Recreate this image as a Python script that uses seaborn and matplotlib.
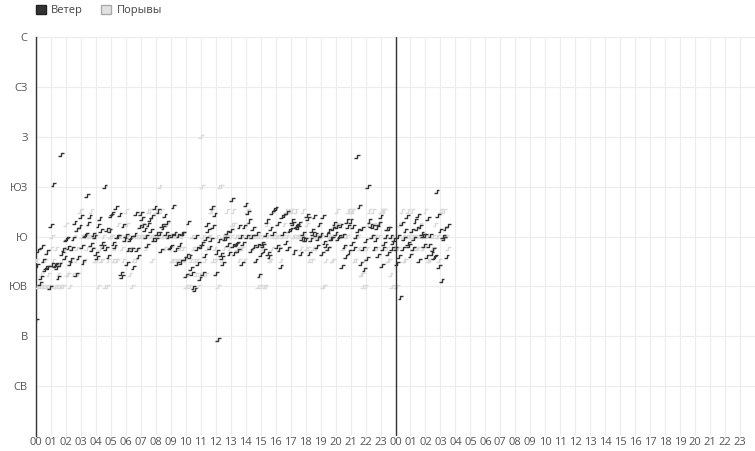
import matplotlib
matplotlib.use("Agg")
import matplotlib.pyplot as plt
from matplotlib.path import Path
from matplotlib.patches import Patch
import pandas as pd
import seaborn as sns

direction_ticks = [45, 90, 135, 180, 225, 270, 315, 360]
direction_labels = ["СВ", "В", "ЮВ", "Ю", "ЮЗ", "З", "СЗ", "С"]
hour_labels = [f"{h % 24:02d}" for h in range(48)]
step_minutes = 5

# wind direction, degrees, one row per hour (5 min steps)
wind_dir = [
    104, 154, 167, 138, 143, 171, 158, 150, 152, 166, 152, 134,
    190, 155, 227, 154, 155, 152, 143, 155, 254, 165, 168, 161,
    177, 178, 170, 156, 159, 169, 178, 193, 146, 186, 161, 189,
    198, 171, 157, 181, 182, 217, 192, 198, 173, 168, 182, 180,
    165, 161, 190, 196, 185, 174, 171, 225, 169, 186, 162, 185,
    199, 201, 174, 171, 206, 180, 180, 200, 147, 144, 190, 177,
    181, 156, 168, 177, 179, 168, 152, 182, 201, 168, 162, 189,
    201, 196, 190, 186, 180, 172, 191, 195, 185, 198, 177, 206,
    177, 183, 203, 183, 167, 190, 188, 199, 183, 193, 180, 170,
    171, 181, 207, 183, 168, 156, 181, 173, 157, 183, 183, 160,
    145, 163, 193, 162, 151, 147, 134, 132, 180, 169, 156, 142,
    171, 174, 147, 163, 178, 191, 185, 170, 177, 206, 189, 200,
    147, 166, 87, 176, 164, 161, 156, 178, 178, 184, 173, 165,
    185, 213, 172, 165, 173, 174, 167, 189, 180, 156, 174, 189,
    209, 180, 202, 194, 167, 180, 187, 171, 158, 183, 172, 145,
    164, 174, 172, 167, 182, 194, 165, 162, 187, 202, 183, 204,
    205, 171, 192, 168, 153, 198, 183, 199, 175, 202, 169, 185,
    186, 194, 192, 166, 189, 190, 188, 192, 165, 178, 183, 177,
    177, 199, 196, 165, 177, 185, 183, 198, 182, 171, 178, 191,
    182, 165, 198, 175, 172, 182, 169, 185, 178, 178, 187, 192,
    183, 189, 178, 180, 190, 153, 181, 171, 162, 194, 189, 166,
    194, 174, 189, 169, 180, 252, 185, 207, 156, 187, 169, 150,
    176, 160, 225, 194, 190, 180, 189, 169, 177, 188, 163, 192,
    198, 154, 169, 174, 180, 187, 165, 187, 180, 169, 175, 177,
    169, 156, 180, 162, 125, 192, 169, 178, 185, 198, 174, 172,
    163, 185, 169, 178, 194, 187, 199, 158, 189, 183, 181, 172,
    181, 162, 196, 172, 181, 165, 168, 161, 162, 221, 199, 153,
    185, 140, 180, 178, 187, 162, 190,
]

# gust direction, degrees, same timestamps
gust_dir = [
    158, 135, 135, 135, 146, 135, 135, 158, 135, 135, 146, 135,
    169, 180, 158, 135, 169, 135, 146, 135, 135, 158, 135, 169,
    191, 146, 146, 135, 158, 169, 146, 180, 158, 169, 146, 203,
    203, 180, 180, 158, 180, 169, 180, 180, 203, 169, 180, 158,
    180, 158, 135, 169, 158, 158, 180, 135, 169, 135, 158, 180,
    180, 180, 158, 169, 158, 158, 191, 180, 180, 169, 158, 180,
    203, 191, 180, 146, 169, 135, 158, 180, 158, 180, 169, 180,
    180, 191, 180, 180, 169, 180, 203, 203, 180, 158, 180, 180,
    203, 180, 180, 225, 203, 180, 180, 169, 180, 191, 180, 180,
    169, 158, 158, 180, 158, 180, 158, 169, 158, 180, 169, 158,
    135, 135, 146, 135, 158, 180, 169, 158, 146, 158, 135, 146,
    270, 225, 180, 158, 146, 169, 180, 180, 203, 203, 158, 169,
    158, 180, 135, 225, 225, 158, 180, 169, 180, 203, 180, 169,
    180, 191, 203, 191, 180, 169, 180, 158, 169, 169, 180, 158,
    191, 203, 203, 180, 180, 180, 169, 180, 158, 180, 135, 180,
    135, 169, 180, 135, 135, 191, 180, 158, 158, 169, 180, 203,
    180, 180, 180, 169, 158, 180, 180, 191, 203, 180, 169, 203,
    203, 203, 180, 180, 203, 180, 180, 180, 169, 180, 203, 180,
    169, 191, 169, 158, 180, 158, 169, 180, 169, 180, 180, 180,
    180, 180, 135, 135, 158, 169, 169, 180, 180, 158, 158, 180,
    191, 203, 191, 180, 180, 180, 169, 169, 180, 180, 203, 203,
    203, 203, 203, 158, 158, 180, 180, 169, 146, 146, 135, 158,
    135, 169, 191, 203, 180, 180, 203, 191, 180, 169, 191, 180,
    203, 203, 203, 203, 180, 169, 158, 158, 146, 135, 180, 169,
    135, 135, 169, 191, 191, 203, 180, 158, 158, 180, 203, 180,
    180, 203, 180, 169, 180, 169, 169, 180, 191, 180, 169, 180,
    203, 180, 158, 158, 158, 169, 180, 169, 191, 180, 180, 158,
    203, 203, 180, 203, 180, 180, 169,
]

wind_color = "#333333"
gust_color = "#dadada"

hours = [i * step_minutes / 60 for i in range(len(wind_dir))]
data = pd.DataFrame({"hour": hours, "wind": wind_dir, "gust": gust_dir})

sns.set_theme(style="white")
plt.rcParams["font.family"] = ["Open Sans", "DejaVu Sans"]

fig, ax = plt.subplots(figsize=(7.55, 4.51), dpi=100)
fig.subplots_adjust(left=36 / 755, right=1.0, top=1 - 37 / 451, bottom=1 - 436 / 451)

# small step-shaped glyph like the original markers
step = Path([(-1, -0.55), (0, -0.55), (0, 0.55), (1, 0.55)])

sns.scatterplot(data=data, x="hour", y="gust", marker=step, s=16,
                linewidth=1.0, color=gust_color, ax=ax, zorder=3)
sns.scatterplot(data=data, x="hour", y="wind", marker=step, s=16,
                linewidth=1.0, color=wind_color, ax=ax, zorder=4)
for coll, c in zip(ax.collections, [gust_color, wind_color]):
    coll.set_facecolor("none")
    coll.set_edgecolor(c)

ax.set_xlim(0, 48)
ax.set_ylim(0, 360)
ax.set_xticks(range(48))
ax.set_xticklabels(hour_labels)
ax.set_yticks(direction_ticks)
ax.set_yticklabels(direction_labels)
ax.set_xlabel("")
ax.set_ylabel("")
ax.tick_params(axis="both", length=0, labelsize=8, labelcolor="#555555")
ax.tick_params(axis="x", pad=1)
ax.tick_params(axis="y", pad=6)

ax.grid(True, color="#ececec", linewidth=0.8, zorder=0)
ax.set_axisbelow(True)
for side in ["top", "right", "bottom"]:
    ax.spines[side].set_visible(False)
ax.spines["left"].set_color("#333333")
ax.spines["left"].set_linewidth(1.0)
ax.axvline(24, color="#333333", linewidth=1.0, zorder=5)

handles = [
    Patch(facecolor="#333333", edgecolor="#222222", label="Ветер"),
    Patch(facecolor="#e2e2e2", edgecolor="#aaaaaa", label="Порывы"),
]
fig.legend(handles=handles, loc="upper left", bbox_to_anchor=(0.034, 1.012),
           ncol=2, frameon=False, fontsize=8, handlelength=0.9,
           handleheight=0.9, handletextpad=0.5, columnspacing=1.6,
           labelcolor="#444444")

plt.savefig("out.png", dpi=100)
plt.close()
